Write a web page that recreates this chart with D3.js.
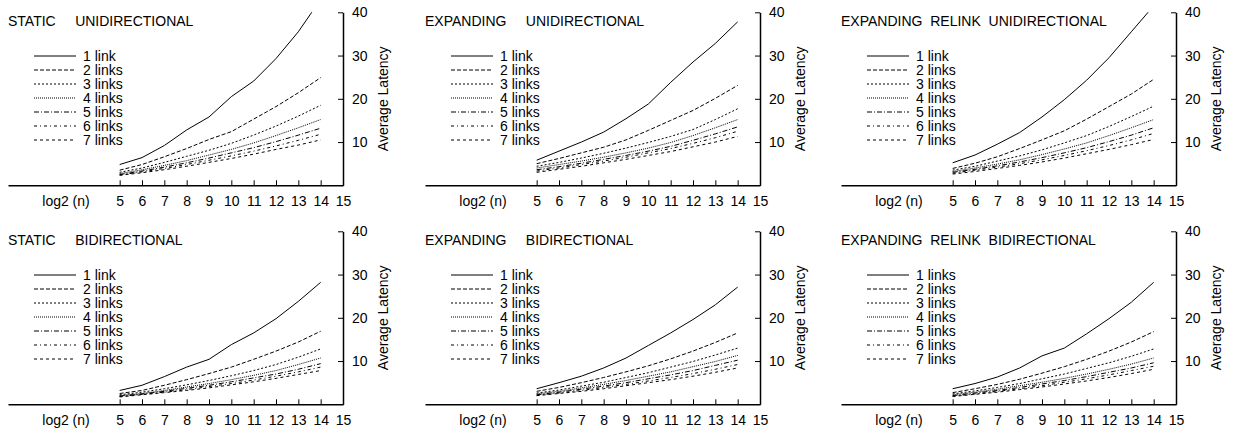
<!DOCTYPE html>
<html>
<head>
<meta charset="utf-8">
<script src="https://cdn.jsdelivr.net/npm/d3@7"></script>
<style>
  body { margin: 0; background: #fff; }
  svg { display: block; }
  text { font-family: "Liberation Sans", Arial, sans-serif; font-size: 14px; fill: #000; }
</style>
</head>
<body>
<svg id="chart" width="1235" height="430"></svg>
<script>
// ---- data ----
const xValues = [5, 6, 7, 8, 9, 10, 11, 12, 13, 14];
const xTicks = [5, 6, 7, 8, 9, 10, 11, 12, 13, 14, 15];
const yTicks = [10, 20, 30, 40];
const panelTitles = [
  "STATIC     UNIDIRECTIONAL",
  "EXPANDING     UNIDIRECTIONAL",
  "EXPANDING  RELINK  UNIDIRECTIONAL",
  "STATIC     BIDIRECTIONAL",
  "EXPANDING     BIDIRECTIONAL",
  "EXPANDING  RELINK  BIDIRECTIONAL"
];
const legendLabels = ["1 link", "2 links", "3 links", "4 links", "5 links", "6 links", "7 links"];
const legendLabelsAlt = ["1 links", "2 links", "3 links", "4 links", "5 links", "6 links", "7 links"];

const staticUni = [
  [4.8, 6.4, 9.2, 12.8, 15.8, 20.5, 24.1, 29.3, 35.5, 43.0],
  [3.5, 4.8, 6.6, 8.5, 10.6, 12.4, 15.3, 18.2, 21.4, 24.9],
  [3.0, 4.0, 5.3, 6.7, 8.1, 9.7, 11.6, 13.7, 16.0, 18.5],
  [2.7, 3.6, 4.6, 5.7, 7.0, 8.3, 9.8, 11.5, 13.3, 15.2],
  [2.5, 3.3, 4.2, 5.2, 6.3, 7.5, 8.7, 10.1, 11.6, 13.2],
  [2.4, 3.1, 3.9, 4.8, 5.8, 6.8, 7.9, 9.1, 10.4, 11.8],
  [2.3, 2.9, 3.6, 4.4, 5.3, 6.2, 7.2, 8.3, 9.3, 10.5]
];
const expandingUni = [
  [5.8, 7.9, 10.0, 12.3, 15.4, 18.8, 23.8, 28.5, 32.8, 37.8],
  [5.0, 6.2, 7.5, 8.8, 10.5, 12.7, 15.0, 17.3, 20.1, 23.1],
  [4.4, 5.3, 6.3, 7.4, 8.6, 9.9, 11.3, 12.9, 15.2, 17.7],
  [4.0, 4.8, 5.6, 6.5, 7.5, 8.6, 9.9, 11.5, 13.3, 15.2],
  [3.6, 4.3, 5.1, 6.0, 6.9, 7.9, 9.0, 10.4, 11.9, 13.5],
  [3.3, 4.0, 4.8, 5.6, 6.5, 7.5, 8.5, 9.7, 11.0, 12.5],
  [3.0, 3.7, 4.4, 5.2, 6.0, 6.9, 7.8, 8.9, 10.0, 11.3]
];
const relinkUni = [
  [5.2, 7.0, 9.5, 12.2, 15.8, 19.8, 24.3, 29.5, 35.5, 41.5],
  [3.9, 5.1, 6.6, 8.5, 10.5, 12.6, 15.3, 18.2, 21.1, 24.5],
  [3.5, 4.4, 5.6, 6.8, 8.2, 9.8, 11.5, 13.6, 15.9, 18.3],
  [3.2, 4.0, 4.9, 5.9, 7.1, 8.4, 9.8, 11.5, 13.3, 15.2],
  [3.0, 3.7, 4.5, 5.4, 6.4, 7.5, 8.7, 10.1, 11.6, 13.3],
  [2.8, 3.5, 4.2, 5.0, 5.9, 6.9, 8.0, 9.2, 10.5, 12.0],
  [2.6, 3.2, 3.9, 4.6, 5.4, 6.3, 7.3, 8.3, 9.4, 10.6]
];
const staticBi = [
  [3.2, 4.4, 6.4, 8.6, 10.4, 13.8, 16.5, 19.8, 23.8, 28.2],
  [2.5, 3.2, 4.4, 5.7, 7.1, 8.6, 10.4, 12.3, 14.4, 16.9],
  [2.2, 2.8, 3.6, 4.5, 5.5, 6.6, 7.8, 9.2, 10.9, 12.8],
  [2.0, 2.5, 3.2, 4.0, 4.8, 5.7, 6.7, 7.8, 9.2, 10.7],
  [1.9, 2.4, 3.0, 3.7, 4.4, 5.2, 6.1, 7.0, 8.1, 9.4],
  [1.8, 2.3, 2.8, 3.4, 4.1, 4.8, 5.6, 6.5, 7.5, 8.6],
  [1.7, 2.2, 2.7, 3.2, 3.8, 4.5, 5.2, 6.0, 6.9, 7.8]
];
const expandingBi = [
  [3.6, 5.0, 6.5, 8.4, 10.7, 13.6, 16.5, 19.6, 23.0, 27.1],
  [3.0, 3.9, 5.0, 6.2, 7.5, 8.9, 10.5, 12.3, 14.3, 16.5],
  [2.6, 3.3, 4.2, 5.1, 6.2, 7.3, 8.6, 9.9, 11.4, 13.0],
  [2.4, 3.0, 3.8, 4.6, 5.5, 6.5, 7.5, 8.7, 9.9, 11.3],
  [2.2, 2.8, 3.5, 4.2, 5.0, 5.9, 6.8, 7.8, 9.0, 10.2],
  [2.1, 2.6, 3.2, 3.9, 4.6, 5.4, 6.2, 7.1, 8.1, 9.2],
  [2.0, 2.5, 3.0, 3.6, 4.3, 5.0, 5.7, 6.5, 7.4, 8.4]
];
const relinkBi = [
  [3.6, 4.8, 6.3, 8.4, 11.2, 13.0, 16.3, 19.8, 23.6, 28.2],
  [2.7, 3.6, 4.6, 5.8, 7.2, 8.7, 10.4, 12.3, 14.4, 16.8],
  [2.4, 3.1, 3.9, 4.8, 5.9, 7.0, 8.3, 9.6, 11.1, 12.8],
  [2.2, 2.8, 3.5, 4.3, 5.1, 6.0, 7.0, 8.1, 9.3, 10.7],
  [2.0, 2.6, 3.2, 3.9, 4.7, 5.5, 6.4, 7.4, 8.4, 9.6],
  [1.9, 2.4, 3.0, 3.6, 4.3, 5.1, 5.9, 6.8, 7.8, 8.8],
  [1.8, 2.3, 2.8, 3.4, 4.0, 4.7, 5.4, 6.2, 7.1, 8.1]
];

const panels = [
  { title: panelTitles[0], series: staticUni, labels: legendLabels },
  { title: panelTitles[1], series: expandingUni, labels: legendLabels },
  { title: panelTitles[2], series: relinkUni, labels: legendLabels },
  { title: panelTitles[3], series: staticBi, labels: legendLabels },
  { title: panelTitles[4], series: expandingBi, labels: legendLabels },
  { title: panelTitles[5], series: relinkBi, labels: legendLabelsAlt }
];

// ---- styles ----
const dashes = [null, "4,2", "2,2", "1,1", "5,2,1,2", "3,3,1,3", "3,3"];
const colOffsets = [0, 417, 833];
const rowOffsets = [0, 219];
const FONT = '"Liberation Sans", Arial, sans-serif';

const svg = d3.select("#chart");

const x = d3.scaleLinear().domain([0, 15]).range([8, 343]);
const y = d3.scaleLinear().domain([0, 40]).range([185.3, 12.3]);

const line = d3.line().x((d, i) => x(xValues[i])).y(d => y(d));

panels.forEach((p, pi) => {
  const gx = colOffsets[pi % 3], gy = rowOffsets[Math.floor(pi / 3)];
  const g = svg.append("g").attr("transform", `translate(${gx},${gy})`);

  const clipId = "clip" + pi;
  g.append("clipPath").attr("id", clipId)
    .append("rect").attr("x", x(0)).attr("y", y(40))
    .attr("width", x(15) - x(0)).attr("height", y(0) - y(40));

  // title
  g.append("text").attr("x", 8).attr("y", 26)
    .style("white-space", "pre").attr("xml:space", "preserve")
    .text(p.title);

  // x axis
  const xa = g.append("g").attr("transform", `translate(0,${y(0)})`)
    .call(d3.axisBottom(x).tickValues(xTicks).tickSize(-5).tickSizeOuter(0).tickPadding(11).tickFormat(d3.format("d")));
  xa.selectAll("text").style("font-size", "14px").style("font-family", FONT).attr("fill", "#000");
  xa.select(".domain").attr("stroke-width", 1.5);
  xa.selectAll(".tick line").attr("stroke-width", 1);

  g.append("text").attr("x", 66).attr("y", y(0) + 21).attr("text-anchor", "middle").text("log2 (n)");

  // y axis
  const ya = g.append("g").attr("transform", `translate(${x(15)},0)`)
    .call(d3.axisRight(y).tickValues(yTicks).tickSize(-5).tickSizeOuter(0).tickPadding(9));
  ya.selectAll("text").style("font-size", "14px").style("font-family", FONT).attr("fill", "#000");
  ya.select(".domain").attr("stroke-width", 1.5);

  g.append("text")
    .attr("transform", `translate(${x(15) + 45},${(y(0) + y(40)) / 2}) rotate(-90)`)
    .attr("text-anchor", "middle").text("Average Latency");

  // lines
  const lg = g.append("g").attr("clip-path", `url(#${clipId})`);
  p.series.forEach((s, si) => {
    lg.append("path").attr("d", line(s))
      .attr("fill", "none").attr("stroke", "#000").attr("stroke-width", 1)
      .attr("stroke-dasharray", dashes[si]);
  });

  // legend
  p.labels.forEach((lab, li) => {
    const ly = 56 + li * 14;
    g.append("line").attr("x1", 34).attr("x2", 76).attr("y1", ly).attr("y2", ly)
      .attr("stroke", "#000").attr("stroke-width", 1).attr("stroke-dasharray", dashes[li]);
    g.append("text").attr("x", 83).attr("y", ly + 5).text(lab);
  });
});
</script>
</body>
</html>
